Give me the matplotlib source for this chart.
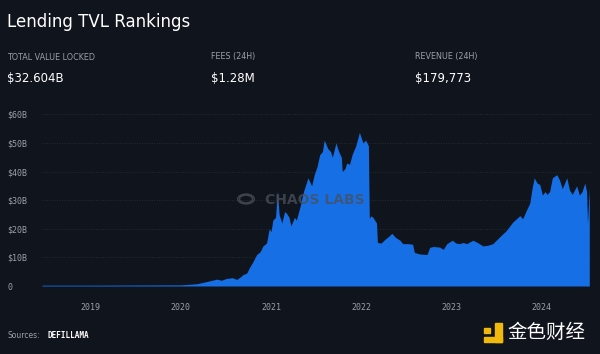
import numpy as np
import matplotlib.pyplot as plt
from matplotlib.patches import Circle, Rectangle, Ellipse

plt.rcParams['font.family'] = ['DejaVu Sans', 'Noto Sans CJK SC']

# TVL over time (decimal years, billions USD)
years = [2018.46, 2019.00, 2019.50, 2020.00, 2020.10, 2020.18, 2020.25, 2020.32, 2020.40,
         2020.45, 2020.50, 2020.57, 2020.62, 2020.66, 2020.69, 2020.73, 2020.76, 2020.80,
         2020.84, 2020.88, 2020.91, 2020.95, 2020.98, 2021.00, 2021.02, 2021.05, 2021.07,
         2021.09, 2021.12, 2021.15, 2021.17, 2021.20, 2021.22, 2021.26, 2021.28, 2021.32,
         2021.36, 2021.41, 2021.45, 2021.48, 2021.51, 2021.54, 2021.57, 2021.59, 2021.63,
         2021.66, 2021.68, 2021.72, 2021.75, 2021.78, 2021.79, 2021.82, 2021.84, 2021.87,
         2021.90, 2021.94, 2021.98, 2022.02, 2022.05, 2022.08, 2022.09, 2022.11, 2022.13,
         2022.17, 2022.18, 2022.22, 2022.27, 2022.31, 2022.34, 2022.38, 2022.43, 2022.46,
         2022.52, 2022.57, 2022.59, 2022.65, 2022.73, 2022.76, 2022.80, 2022.87, 2022.91,
         2022.95, 2023.01, 2023.05, 2023.09, 2023.13, 2023.17, 2023.24, 2023.30, 2023.35,
         2023.40, 2023.46, 2023.53, 2023.61, 2023.68, 2023.76, 2023.79, 2023.84, 2023.87,
         2023.90, 2023.92, 2023.95, 2023.98, 2024.01, 2024.04, 2024.06, 2024.09, 2024.12,
         2024.17, 2024.20, 2024.23, 2024.28, 2024.31, 2024.34, 2024.39, 2024.42, 2024.45,
         2024.48, 2024.50, 2024.51, 2024.53]
tvl = [0.3, 0.3, 0.35, 0.4, 0.6, 0.8, 1.3, 1.8, 2.4,
       2.0, 2.6, 2.9, 2.3, 3.2, 4.0, 4.5, 6.4, 8.5,
       11.0, 12.0, 14.0, 15.0, 20.0, 19.0, 23.0, 24.0, 33.0,
       25.0, 22.0, 26.0, 25.5, 24.0, 21.0, 24.0, 23.0, 27.5,
       33.0, 37.8, 35.0, 39.0, 41.7, 45.9, 47.0, 51.0, 48.0,
       47.0, 45.0, 50.0, 47.0, 45.0, 40.0, 41.0, 43.0, 42.5,
       46.0, 49.0, 53.7, 50.0, 51.0, 49.0, 23.7, 24.5, 24.0,
       22.0, 15.2, 15.0, 16.5, 17.5, 18.4, 17.0, 16.0, 14.8,
       14.8, 14.6, 11.7, 11.2, 11.0, 13.5, 13.8, 13.6, 12.8,
       14.8, 16.0, 15.0, 14.8, 15.2, 14.8, 16.0, 15.0, 14.0,
       14.2, 14.8, 17.0, 19.4, 22.3, 24.6, 23.5, 27.0, 29.0,
       35.0, 37.8, 36.0, 35.5, 31.8, 33.0, 32.0, 33.0, 37.8,
       38.9, 37.0, 34.0, 37.8, 33.6, 32.0, 35.0, 31.8, 33.0,
       36.0, 33.0, 21.9, 34.2]

ytick_vals = [0, 10, 20, 30, 40, 50, 60]
ytick_labels = ['0', '$10B', '$20B', '$30B', '$40B', '$50B', '$60B']
xtick_vals = [2019, 2020, 2021, 2022, 2023, 2024]
xtick_labels = ['2019', '2020', '2021', '2022', '2023', '2024']

stats = [("TOTAL VALUE LOCKED", "$32.604B"),
         ("FEES (24H)", "$1.28M"),
         ("REVENUE (24H)", "$179,773")]

bg = '#10141c'
blue = '#166fe5'
grey = '#9aa0ab'

W, H = 600, 354
fig = plt.figure(figsize=(6, 3.54), dpi=100, facecolor=bg)

def fx(px):
    return px / W

def fy(py):
    return 1 - py / H

# plot area in pixel terms
left, right, zero_y, top_y = 42, 592, 286, 108
ax = fig.add_axes((fx(left), fy(zero_y), fx(right - left), (zero_y - top_y) / H))
ax.set_facecolor(bg)
ax.fill_between(years, tvl, 0, color=blue, linewidth=0)
ax.set_xlim(2018.46, 2024.56)
ax.set_ylim(0, 62.2)

ax.set_yticks(ytick_vals)
ax.set_yticklabels(ytick_labels, family='DejaVu Sans Mono', fontsize=6, color=grey, ha='left')
ax.set_xticks(xtick_vals)
ax.set_xticklabels(xtick_labels, family='DejaVu Sans Mono', fontsize=6, color=grey)
ax.tick_params(axis='y', length=0, pad=25)
ax.tick_params(axis='x', length=0, pad=12)
ax.grid(axis='y', color='#363c48', linestyle=(0, (1, 2.5)), linewidth=0.5)
ax.grid(axis='x', visible=False)
ax.set_axisbelow(True)
for s in ax.spines.values():
    s.set_visible(False)

# watermark
wm = '#4a505c'
fig.text(fx(265), fy(200), "CHAOS LABS", color=wm, fontsize=10, fontweight='bold',
         va='center', ha='left', alpha=0.75)
fig.patches.append(Circle((fx(246), fy(199)), 0.011, transform=fig.transFigure,
                          fill=False, edgecolor=wm, linewidth=1.2, alpha=0.75))
fig.patches.append(Ellipse((fx(246), fy(199)), 0.028, 0.028, transform=fig.transFigure,
                           fill=False, edgecolor=wm, linewidth=1.0, alpha=0.75))

# header
fig.text(fx(7), fy(22), "Lending TVL Rankings", color='white', fontsize=12, va='center')
for i, (lab, val) in enumerate(stats):
    x0 = [7, 211, 415][i]
    fig.text(fx(x0), fy(57), lab, color=grey, fontsize=5.8, va='center')
    fig.text(fx(x0), fy(79), val, color='white', fontsize=8.5, va='center')

# footer
fig.text(fx(7), fy(336), "Sources:", color=grey, fontsize=5.5, va='center')
fig.text(fx(47), fy(336), "DEFILLAMA", color='white', fontsize=5.5, va='center',
         family='DejaVu Sans Mono', fontweight='bold')

# brand logo bottom right
yellow = '#f0b90b'
fig.patches.append(Rectangle((fx(484), fy(342)), fx(18), 5 / H, transform=fig.transFigure,
                             color=yellow))
fig.patches.append(Rectangle((fx(495), fy(342)), fx(7), 19 / H, transform=fig.transFigure,
                             color=yellow))
fig.patches.append(Rectangle((fx(484), fy(333)), fx(6), 5 / H, transform=fig.transFigure,
                             color=yellow))
fig.text(fx(507), fy(332), "金色财经", color='white', fontsize=14, va='center',
         family=['Noto Sans CJK SC', 'DejaVu Sans'])

fig.savefig("out.png", dpi=100, facecolor=bg)
